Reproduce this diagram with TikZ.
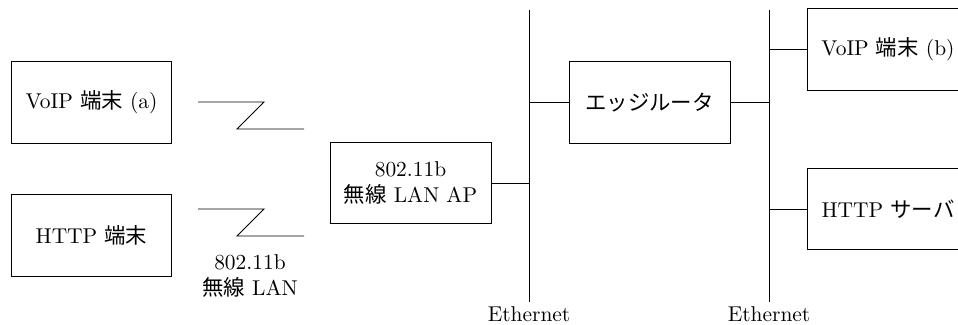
\documentclass[tikz,border=0pt]{standalone}
\usepackage{fontspec}
\newfontfamily\jpfont{Noto Sans CJK JP}
\usepackage{tikz}
\usetikzlibrary{positioning}
\newcommand{\jp}[1]{{\jpfont #1}}

\begin{document}
\begin{tikzpicture}[
  x=0.0164cm, y=-0.0164cm,
  line width=0.45pt,
  device/.style={
    rectangle, draw, inner sep=0pt,
    minimum width=2.64cm, minimum height=1.33cm,
    align=center
  },
  buslabel/.style={font=\normalsize, inner sep=2pt},
]

% === FRAME ===
\useasboundingbox (0,0) rectangle (958,325);
\clip (0,0) rectangle (958,325);

% === DEVICES ===
\node[device] (voipa) at (91.5,102.5) {VoIP \jp{端末} (a)};
\node[device] (httpc) at (91.5,235.5) {HTTP \jp{端末}};
\node[device] (ap) at (410.5,183) {802.11b\\\jp{無線} LAN AP};
\node[device] (router) at (649.5,102.5) {\jp{エッジルータ}};
\node[device] (voipb) at (888,49.5) {VoIP \jp{端末} (b)};
\node[device] (server) at (888,209) {HTTP \jp{サーバ}};

% === ETHERNET SEGMENTS ===
\coordinate (eth1top) at (529,10);
\coordinate (eth1bot) at (529,302);
\coordinate (eth2top) at (769,10);
\coordinate (eth2bot) at (769,302);
\draw (eth1top) -- (eth1bot);
\draw (eth2top) -- (eth2bot);
\node[buslabel, below=0pt of eth1bot] (eth1lbl) {Ethernet};
\node[buslabel, below=0pt of eth2bot] (eth2lbl) {Ethernet};

% === Links to the segments ===
\draw (ap.east) -- (ap.east -| eth1top);
\draw (router.west) -- (router.west -| eth1top);
\draw (router.east) -- (router.east -| eth2top);
\draw (voipb.west) -- (voipb.west -| eth2top);
\draw (server.west) -- (server.west -| eth2top);

% === Wireless links ===
\foreach \y/\n in {102/1, 209/2} {
  \coordinate (wl\n) at (198,\y);
  \draw (wl\n) -- ++(66,0) -- ++(-27,27) -- ++(67,0);
}
\node[align=center, font=\normalsize] (wllbl) at (250,276) {802.11b\\\jp{無線} LAN};

\end{tikzpicture}
\end{document}
